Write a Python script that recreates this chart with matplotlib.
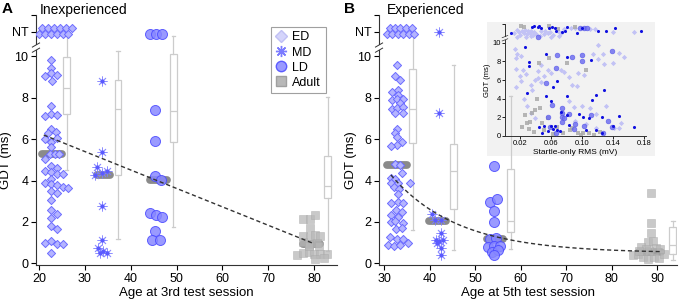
import matplotlib
matplotlib.use("Agg")
import matplotlib.pyplot as plt
from matplotlib.patches import Rectangle
from matplotlib.lines import Line2D
import matplotlib.transforms as mtrans
import numpy as np

plt.rcParams['font.family'] = ['Liberation Sans', 'DejaVu Sans']

# ---------------- Panel A data (Inexperienced, 3rd session) ----------------
a_ed_age = [20.6, 21.9, 23.3, 24.6, 25.8, 27.1, 20.0, 21.2, 22.5, 23.9, 25.2, 26.4,
            22.5, 22.5, 21.2, 22.5, 23.8, 22.9, 22.5, 21.2, 22.5, 23.8,
            22.5, 23.6, 22.0, 23.8, 21.2, 22.5, 22.5, 22.3, 23.5, 24.3, 21.3,
            22.5, 23.8, 21.2, 22.5, 23.8, 25.3, 22.5, 21.2, 22.5, 23.8, 25.2, 26.4,
            22.5, 23.8, 22.5, 22.5, 23.8, 22.5, 22.5, 23.8, 21.2, 22.5, 23.8, 25.2, 22.5]
a_ed_gdt = [11.35, 11.35, 11.35, 11.35, 11.35, 11.35, 11.1, 11.1, 11.1, 11.1, 11.1, 11.1,
            9.85, 9.45, 9.05, 9.2, 9.1, 8.8, 7.6, 7.1, 7.2, 7.15,
            6.5, 6.35, 6.3, 6.05, 6.0, 5.85, 5.6, 5.3, 5.3, 5.3, 5.05,
            4.7, 4.6, 4.45, 4.4, 4.3, 4.3, 4.1, 3.9, 3.85, 3.8, 3.68, 3.66,
            3.5, 3.4, 3.06, 2.6, 2.4, 2.2, 1.81, 1.67, 1.0, 1.1, 0.92, 0.95, 0.5]
a_md_age = [33.7, 33.7, 32.7, 34.8, 33.7, 32.2, 33.7, 33.7, 32.8, 33.3, 34.8, 33.9]
a_md_gdt = [8.8, 5.4, 4.65, 4.47, 4.35, 4.25, 2.77, 1.12, 0.72, 0.5, 0.48, 0.6]
a_ld_age = [44.1, 45.5, 46.9, 45.3, 45.3, 45.3, 46.6, 44.1, 45.5, 46.9, 45.3, 44.6, 46.4]
a_ld_gdt = [11.1, 11.1, 11.1, 7.43, 5.89, 4.22, 4.01, 2.41, 2.33, 2.22, 1.57, 1.12, 1.12]
a_ad_age = [77.7, 79.2, 80.3, 79.2, 77.7, 79.2, 80.3, 81.4, 77.7, 78.8, 80.6, 76.3, 77.7,
            78.8, 79.9, 81.4, 82.8, 80.3, 82.1, 79.0, 81.0]
a_ad_gdt = [2.12, 2.12, 2.33, 1.7, 1.3, 1.28, 1.36, 1.34, 1.05, 0.95, 1.0, 0.4, 0.48,
            0.55, 0.47, 0.45, 0.44, 0.22, 0.25, 0.85, 0.85]
# medians (value, start age, end age)
a_med = [(5.3, 20.7, 24.9), (4.25, 32.6, 35.5), (4.05, 44.2, 47.9), (0.92, 77.5, 81.3)]
# box stats: whislo, q1, med, q3, whishi
a_box_pos = [26.0, 37.2, 49.3, 83.0]
a_box_stats = [(4.5, 7.2, 8.45, 9.95, 11.0), (1.2, 4.25, 7.45, 8.85, 10.25),
               (1.75, 5.85, 7.35, 10.1, 11.0), (0.6, 3.15, 3.75, 5.2, 8.05)]
a_fit_intercept, a_fit_slope = 8.07, -0.089
a_fit_range = (21.0, 80.0)

# ---------------- Panel B data (Experienced, 5th session) ----------------
b_ed_age = [31.2, 32.4, 33.6, 34.8, 36.1, 30.6, 31.8, 33.0, 34.2, 35.5, 36.6,
            32.9, 32.4, 33.5, 31.7, 33.0, 33.0, 31.7, 32.8, 34.1, 33.5, 31.7, 32.8, 34.1,
            32.4, 34.1, 32.9, 32.4, 32.9, 33.9, 32.8, 31.5,
            32.4, 33.6, 33.9, 31.6, 32.5, 31.6, 33.1, 35.7, 32.2, 33.2, 33.0, 31.6, 33.0,
            34.2, 32.6, 33.9, 31.6, 33.0, 31.6, 32.5, 34.2, 32.6, 33.9, 31.2, 32.8, 34.2,
            35.3, 30.9, 32.1, 33.4]
b_ed_gdt = [11.35, 11.35, 11.35, 11.35, 11.35, 11.1, 11.1, 11.1, 11.1, 11.1, 11.1,
            9.6, 9.05, 8.85, 8.3, 8.37, 8.15, 7.9, 7.96, 7.96, 7.75, 7.48, 7.5, 7.55,
            7.27, 7.27, 6.49, 6.3, 6.1, 5.86, 5.7, 5.65,
            4.8, 4.76, 4.35, 4.11, 4.1, 3.87, 3.87, 3.87, 3.7, 3.6, 3.35, 2.93, 2.98,
            2.9, 2.57, 2.49, 2.33, 2.22, 2.0, 2.05, 1.93, 1.68, 1.7, 1.28, 1.2, 1.2,
            0.96, 0.87, 0.83, 0.9]
b_md_age = [42.1, 42.1, 40.6, 41.2, 42.6, 42.4, 41.3, 42.1, 43.0, 41.6, 42.4, 42.4]
b_md_gdt = [11.2, 7.27, 2.38, 2.09, 2.09, 1.47, 1.12, 1.1, 1.12, 0.96, 0.72, 0.39]
b_ld_age = [54.1, 53.3, 54.8, 54.1, 54.1, 53.3, 54.5, 52.8, 54.1, 55.4, 53.8, 55.0, 54.1]
b_ld_gdt = [4.71, 2.98, 3.09, 2.52, 2.01, 1.2, 1.22, 0.79, 0.82, 0.82, 0.55, 0.63, 0.39]
b_ad_age = [88.6, 88.6, 88.6, 87.9, 89.0, 86.4, 87.5, 89.7, 84.6, 85.7, 86.8, 87.9,
            89.3, 90.4, 91.5, 90.6, 88.2, 86.0]
b_ad_gdt = [3.4, 1.95, 1.45, 1.04, 1.08, 0.79, 0.71, 0.72, 0.39, 0.47, 0.31, 0.23,
            0.3, 0.25, 0.47, 0.7, 0.6, 0.6]
b_med = [(4.77, 30.6, 35.0), (2.06, 39.9, 43.6), (1.17, 52.5, 56.0), (0.57, 86.0, 90.8)]
b_box_pos = [36.3, 45.3, 57.8, 93.4]
b_box_stats = [(1.6, 5.82, 7.45, 9.38, 11.0), (0.65, 2.65, 4.45, 5.75, 9.6),
               (0.7, 1.52, 2.04, 4.55, 8.1), (0.15, 0.45, 0.9, 1.75, 2.05)]
b_fit_c, b_fit_a, b_fit_k, b_fit_x0 = 0.5, 3.77, 0.068, 31.5
b_fit_range = (31.5, 90.5)

# ---------------- Inset data (Startle-only RMS vs GDT) ----------------
in_dark_rms = [0.008, 0.035, 0.038, 0.042, 0.044, 0.046, 0.057, 0.061, 0.074, 0.078, 0.080,
               0.093, 0.099, 0.120, 0.130, 0.142, 0.176, 0.064, 0.066,
               0.026, 0.031, 0.031, 0.053, 0.080, 0.111, 0.067, 0.062, 0.029, 0.053, 0.059,
               0.080, 0.112, 0.118, 0.128, 0.080, 0.072, 0.096, 0.101, 0.108, 0.125, 0.147,
               0.044, 0.050, 0.059, 0.065, 0.055, 0.048, 0.067, 0.082, 0.105, 0.118, 0.139,
               0.167, 0.125, 0.062, 0.071]
in_dark_gdt = [11.0, 11.7, 11.75, 11.7, 11.75, 11.55, 11.55, 11.65, 11.1, 11.2, 11.65,
               11.0, 11.55, 11.3, 11.2, 11.55, 11.3, 11.6, 11.3,
               9.5, 7.9, 7.5, 8.8, 8.45, 8.15, 5.85, 5.3, 4.6, 4.25, 3.7,
               4.3, 3.9, 4.4, 4.95, 2.25, 2.6, 2.35, 2.0, 1.9, 2.0, 2.1,
               1.0, 1.05, 1.05, 1.05, 0.5, 0.35, 0.65, 1.2, 0.65, 0.65, 1.1,
               0.95, 0.35, 0.8, 0.55]
in_mid_rms = [0.043, 0.097, 0.102, 0.106, 0.067, 0.086, 0.099, 0.099, 0.066, 0.1385, 0.053,
              0.061, 0.074, 0.074, 0.082, 0.056, 0.073, 0.074, 0.091, 0.1025, 0.111, 0.133,
              0.1385, 0.127, 0.089, 0.058, 0.076, 0.066]
in_mid_gdt = [10.6, 11.6, 11.55, 11.55, 8.7, 8.45, 8.7, 8.0, 7.3, 9.15, 5.65,
              3.35, 2.95, 2.45, 2.35, 2.0, 2.0, 1.45, 1.3, 1.05, 2.25, 1.65,
              1.0, 0.3, 0.8, 1.0, 1.9, 0.3]
in_light_rms = [0.012, 0.015, 0.018, 0.020, 0.022, 0.024, 0.026, 0.028, 0.030, 0.032, 0.034,
                0.036, 0.038, 0.040, 0.047, 0.050, 0.052, 0.055, 0.058, 0.062, 0.068, 0.072,
                0.076, 0.085, 0.090, 0.110, 0.116, 0.139, 0.167, 0.016, 0.027, 0.033, 0.045,
                0.060, 0.070,
                0.0125, 0.015, 0.021, 0.0137, 0.0145, 0.023, 0.027, 0.019, 0.021, 0.0145,
                0.033, 0.039, 0.042, 0.046, 0.035, 0.025, 0.029, 0.033, 0.039, 0.043, 0.047,
                0.055, 0.051, 0.059, 0.072, 0.076, 0.082, 0.087, 0.093, 0.083, 0.089, 0.099,
                0.110, 0.117, 0.091, 0.104, 0.118, 0.141, 0.147, 0.154, 0.139, 0.128, 0.120,
                0.114, 0.1196, 0.147, 0.127, 0.094, 0.102, 0.130, 0.150]
in_light_gdt = [11.0, 11.4, 11.1, 10.8, 11.3, 11.0, 11.4, 10.9, 11.2, 11.0, 11.3,
                10.8, 11.1, 10.9, 11.2, 10.9, 11.3, 11.0, 11.1, 10.8, 11.2, 11.0,
                11.5, 11.6, 11.6, 11.5, 11.5, 11.1, 11.15, 10.6, 10.6, 10.7, 10.7,
                10.6, 10.7,
                9.3, 8.8, 8.6, 8.35, 7.2, 7.1, 6.6, 6.4, 5.9, 5.25,
                5.5, 6.0, 6.2, 5.8, 4.9, 4.0, 3.2, 2.5, 1.9, 7.0, 7.6,
                7.1, 6.4, 6.8, 7.1, 6.9, 6.3, 5.5, 5.4, 3.7, 3.1, 3.2,
                3.0, 2.4, 1.6, 1.3, 0.9, 0.9, 0.9, 8.45, 7.8, 7.7, 8.3,
                8.8, 9.8, 8.9, 8.8, 6.7, 6.5, 3.2, 1.4]
in_grey_rms = [0.022, 0.028, 0.032, 0.026, 0.035, 0.039, 0.045, 0.056, 0.048, 0.067, 0.075,
               0.084, 0.094, 0.101, 0.109, 0.115, 0.037, 0.031, 0.041, 0.080, 0.105, 0.044,
               0.057, 0.021, 0.025, 0.057, 0.068, 0.091, 0.087, 0.062, 0.050, 0.098, 0.122]
in_grey_gdt = [1.0, 1.4, 1.55, 2.25, 2.45, 2.8, 3.05, 1.9, 1.35, 1.0, 0.35,
               0.65, 0.3, 0.35, 0.3, 0.1, 0.45, 0.7, 4.0, 7.8, 7.1, 7.8,
               8.4, 11.75, 11.7, 11.8, 11.5, 11.7, 0.9, 0.2, 0.6, 0.1, 0.4]

# ---------------- styles ----------------
ED_FACE, ED_EDGE = '#b4b4ff', '#6c6cff'
MD_COL = '#7c7cff'
LD_FACE, LD_EDGE = '#8888ff', '#4a4aff'
AD_FACE = '#b8b8b8'
MED_COL = '#7d7d7d'
BOX_COL = '#cccccc'
NT_Y = 11.2
FS = 9

fig = plt.figure(figsize=(6.8, 3.05), dpi=100)
axA = fig.add_axes([0.0529, 0.1311, 0.4426, 0.8197])
axB = fig.add_axes([0.5574, 0.1311, 0.4382, 0.8197])

md_marker = (8, 2, 0)


def draw_panel(ax, ed, md, ld, ad, meds, box_pos, box_stats, xlim, xticks, ylab_x):
    ax.set_facecolor('none')
    stats = [dict(whislo=s[0], q1=s[1], med=s[2], q3=s[3], whishi=s[4]) for s in box_stats]
    ax.bxp(stats, positions=box_pos, widths=1.5, showfliers=False, patch_artist=True,
           boxprops=dict(facecolor='white', edgecolor=BOX_COL, linewidth=0.9),
           whiskerprops=dict(color=BOX_COL, linewidth=0.9),
           capprops=dict(color=BOX_COL, linewidth=0.9),
           medianprops=dict(color=BOX_COL, linewidth=0.9), manage_ticks=False)
    for v, x0, x1 in meds:
        ax.plot([x0, x1], [v, v], color=MED_COL, lw=5.6, solid_capstyle='round',
                alpha=0.9, zorder=3)
    ax.scatter(ed[0], ed[1], marker='D', s=17, facecolor=ED_FACE, edgecolor=ED_EDGE,
               linewidth=0.7, zorder=4)
    ax.scatter(md[0], md[1], marker=md_marker, s=45, color=MD_COL, linewidth=0.6,
               alpha=0.85, zorder=4)
    ax.scatter(md[0], md[1], marker='o', s=4, color='#5a5aff', zorder=4)
    ax.scatter(ld[0], ld[1], marker='o', s=52, facecolor=LD_FACE, edgecolor=LD_EDGE,
               linewidth=0.7, alpha=0.85, zorder=4)
    ax.scatter(ad[0], ad[1], marker='s', s=34, facecolor=AD_FACE, edgecolor='#a8a8a8',
               linewidth=0.4, alpha=0.75, zorder=4)
    ax.set_xlim(*xlim)
    ax.set_ylim(-0.08, 12)
    ax.set_xticks(xticks)
    ax.set_yticks([0, 2, 4, 6, 8, 10, NT_Y, 12])
    ax.set_yticklabels(['0', '2', '4', '6', '8', '10', 'NT', ''])
    ax.tick_params(labelsize=FS, length=3.5, width=0.8, pad=2)
    for sp in ['top', 'right']:
        ax.spines[sp].set_visible(False)
    for sp in ['left', 'bottom']:
        ax.spines[sp].set_linewidth(0.8)
        ax.spines[sp].set_color('#333333')
    ax.set_ylabel('GDT (ms)', fontsize=FS + 0.5)
    ax.yaxis.set_label_coords(ylab_x, 0.42)
    # axis break marks
    tr = mtrans.blended_transform_factory(ax.transAxes, ax.transData)
    ax.add_patch(Rectangle((-0.01, 10.3), 0.02, 0.25, transform=tr, facecolor='white',
                           edgecolor='none', clip_on=False, zorder=6))
    for yb in (10.3, 10.55):
        ax.plot([-0.012, 0.012], [yb - 0.1, yb + 0.1], transform=tr, color='#333333',
                lw=0.7, clip_on=False, zorder=7)


draw_panel(axA, (a_ed_age, a_ed_gdt), (a_md_age, a_md_gdt), (a_ld_age, a_ld_gdt),
           (a_ad_age, a_ad_gdt), a_med, a_box_pos, a_box_stats, (19.3, 85.0),
           [20, 30, 40, 50, 60, 70, 80], -0.078)
axA.set_xlabel('Age at 3rd test session', fontsize=FS + 0.5, labelpad=2)
xa = np.linspace(a_fit_range[0], a_fit_range[1], 50)
axA.plot(xa, a_fit_intercept + a_fit_slope * xa, color='#333333', lw=1.0,
         ls=(0, (3, 2)), zorder=5)

draw_panel(axB, (b_ed_age, b_ed_gdt), (b_md_age, b_md_gdt), (b_ld_age, b_ld_gdt),
           (b_ad_age, b_ad_gdt), b_med, b_box_pos, b_box_stats, (28.9, 94.3),
           [30, 40, 50, 60, 70, 80, 90], -0.075)
axB.set_xlabel('Age at 5th test session', fontsize=FS + 0.5, labelpad=2)
xb = np.linspace(b_fit_range[0], b_fit_range[1], 100)
axB.plot(xb, b_fit_c + b_fit_a * np.exp(-b_fit_k * (xb - b_fit_x0)), color='#333333',
         lw=1.0, ls=(0, (3, 2)), zorder=5)

# legend in panel A
handles = [
    Line2D([], [], marker='D', ls='none', markersize=6, markerfacecolor='#d4d4fb',
           markeredgecolor='#c0c0f4'),
    Line2D([], [], marker=md_marker, ls='none', markersize=8, color=MD_COL),
    Line2D([], [], marker='o', ls='none', markersize=7.5, markerfacecolor=LD_FACE,
           markeredgecolor=LD_EDGE, alpha=0.85),
    Line2D([], [], marker='s', ls='none', markersize=6.5, markerfacecolor=AD_FACE,
           markeredgecolor='#a0a0a0'),
]
leg = axA.legend(handles, ['ED', 'MD', 'LD', 'Adult'], loc='upper right',
                 bbox_to_anchor=(0.962, 0.952), borderaxespad=0, fontsize=FS,
                 frameon=True, fancybox=False, edgecolor='#a0a0a0', handlelength=1.0,
                 handletextpad=0.4, labelspacing=0.25, borderpad=0.35, framealpha=1)
leg.get_frame().set_linewidth(0.8)

# titles and panel letters
fig.text(40 / 680, 1 - 10 / 305, 'Inexperienced', fontsize=10, va='center', ha='left')
fig.text(387 / 680, 1 - 10 / 305, 'Experienced', fontsize=10, va='center', ha='left')
fig.text(2 / 680, 1 - 9 / 305, 'A', fontsize=11, fontweight='bold', va='center')
fig.text(344 / 680, 1 - 9 / 305, 'B', fontsize=11, fontweight='bold', va='center')

# inset grey background
axB.add_patch(Rectangle((487 / 680, 1 - 156 / 305), 168 / 680, 134 / 305,
                        transform=fig.transFigure, facecolor='#f2f2f2', edgecolor='none',
                        zorder=0.5, clip_on=False))

axI = fig.add_axes([0.7426, 0.5541, 0.2074, 0.3672])
axI.set_facecolor('none')
axI.scatter(in_light_rms, in_light_gdt, marker='D', s=7, color='#c2c2f5', linewidth=0,
            zorder=2)
axI.scatter(in_grey_rms, in_grey_gdt, marker='s', s=7, color='#ababab', linewidth=0,
            alpha=0.85, zorder=2)
axI.scatter(in_mid_rms, in_mid_gdt, marker='o', s=12, facecolor='#7070f0',
            edgecolor='#5050e8', linewidth=0.4, alpha=0.85, zorder=3)
axI.scatter(in_dark_rms, in_dark_gdt, marker='o', s=5, color='#1010e0', linewidth=0,
            zorder=4)
axI.set_xlim(0.0, 0.182)
axI.set_ylim(0, 12)
axI.set_xticks([0.02, 0.06, 0.10, 0.14, 0.18])
axI.set_xticklabels(['0.02', '0.06', '0.10', '0.14', '0.18'])
axI.set_yticks([0, 2, 4, 6, 8, 10, 12])
axI.set_yticklabels(['0', '2', '4', '6', '8', '10', ''])
axI.tick_params(labelsize=5.5, length=2, width=0.6, pad=1)
for sp in ['top', 'right']:
    axI.spines[sp].set_visible(False)
for sp in ['left', 'bottom']:
    axI.spines[sp].set_linewidth(0.7)
    axI.spines[sp].set_color('#333333')
axI.set_xlabel('Startle-only RMS (mV)', fontsize=6, labelpad=1)
axI.set_ylabel('GDT (ms)', fontsize=5.5, labelpad=1)
trI = mtrans.blended_transform_factory(axI.transAxes, axI.transData)
axI.add_patch(Rectangle((-0.02, 10.3), 0.04, 0.35, transform=trI, facecolor='#f2f2f2',
                        edgecolor='none', clip_on=False, zorder=6))
for yb in (10.3, 10.65):
    axI.plot([-0.02, 0.02], [yb - 0.12, yb + 0.12], transform=trI, color='#333333',
             lw=0.5, clip_on=False, zorder=7)

fig.savefig('out.png', dpi=100)
